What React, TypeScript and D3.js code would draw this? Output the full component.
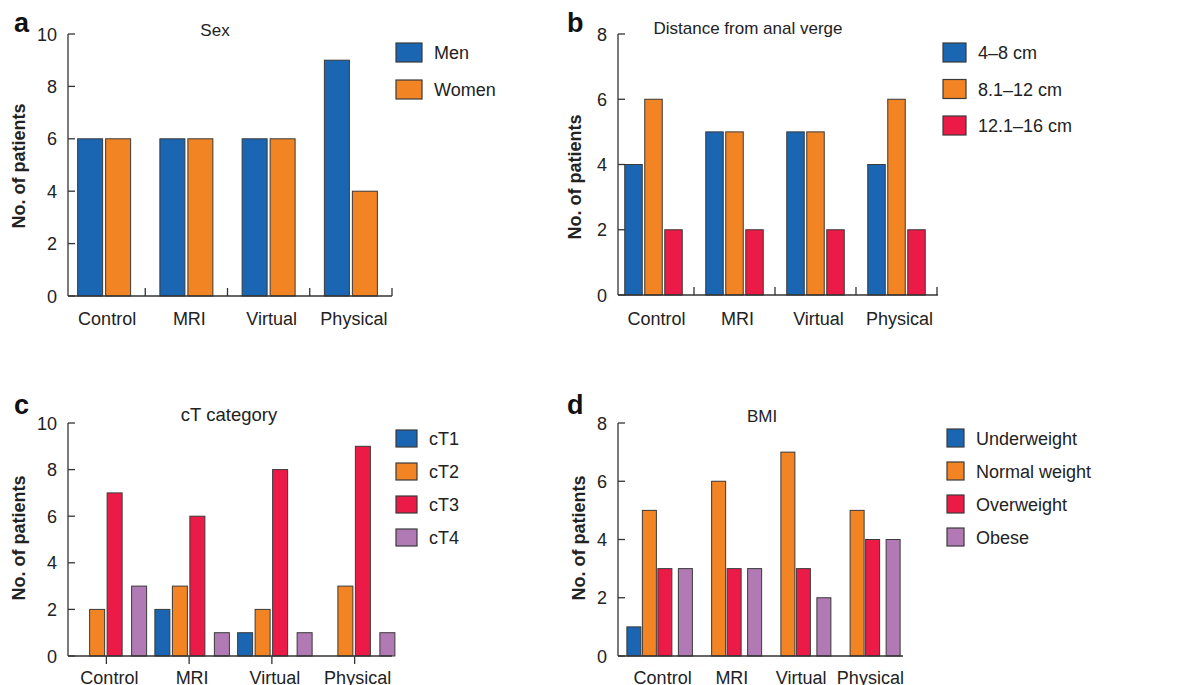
import React from "react";
import * as d3 from "d3";

// groups shared by every panel
const groups = ["Control", "MRI", "Virtual", "Physical"];

// a: sex
const sexSeries = ["Men", "Women"];
const sexValues = [
    [6, 6],
    [6, 6],
    [6, 6],
    [9, 4]
];

// b: distance from anal verge
const distSeries = ["4\u20138 cm", "8.1\u201312 cm", "12.1\u201316 cm"];
const distValues = [
    [4, 6, 2],
    [5, 5, 2],
    [5, 5, 2],
    [4, 6, 2]
];

// c: cT category
const ctSeries = ["cT1", "cT2", "cT3", "cT4"];
const ctValues = [
    [0, 2, 7, 3],
    [2, 3, 6, 1],
    [1, 2, 8, 1],
    [0, 3, 9, 1]
];

// d: BMI
const bmiSeries = ["Underweight", "Normal weight", "Overweight", "Obese"];
const bmiValues = [
    [1, 5, 3, 3],
    [0, 6, 3, 3],
    [0, 7, 3, 2],
    [0, 5, 4, 4]
];

const yTicks10 = [0, 2, 4, 6, 8, 10];
const yTicks8 = [0, 2, 4, 6, 8];

const palette = ["#1a66b2", "#f28423", "#ec1a47", "#b27ab5"];
const FONT = "'Liberation Sans', Arial, Helvetica, sans-serif";

type PanelCfg = {
    letter: string
    title: string
    titleSize: number
    series: string[]
    values: number[][]
    ticks: number[]
    axisX: number
    axisEnd: number
    yTop: number
    yBottom: number
    bandRange: [number, number]
    barW: number
    barStep: number
    lastGap: number
    innerShift: number
    tickMode: "bounds" | "centers" | "none"
    labelY: number
    titleX: number
    titleY: number
    yTitleX: number
    yTitleY: number
    letterX: number
    letterY: number
    legendX: number
    legendY: number
    legendStep: number
    swatchW: number
    swatchH: number
};

const panels: PanelCfg[] = [
    {
        letter: "a", title: "Sex", titleSize: 17, series: sexSeries, values: sexValues, ticks: yTicks10,
        axisX: 68, axisEnd: 392, yTop: 34, yBottom: 296,
        bandRange: [63, 392], barW: 25, barStep: 28, lastGap: 0, innerShift: 0,
        tickMode: "bounds", labelY: 325,
        titleX: 215, titleY: 36, yTitleX: 25, yTitleY: 166,
        letterX: 14, letterY: 32,
        legendX: 396, legendY: 43, legendStep: 37, swatchW: 26, swatchH: 19
    },
    {
        letter: "b", title: "Distance from anal verge", titleSize: 17, series: distSeries, values: distValues, ticks: yTicks8,
        axisX: 618, axisEnd: 938, yTop: 34, yBottom: 295,
        bandRange: [613, 937], barW: 17.5, barStep: 20, lastGap: 0, innerShift: 0,
        tickMode: "bounds", labelY: 325,
        titleX: 748, titleY: 34, yTitleX: 581, yTitleY: 177,
        letterX: 567, letterY: 32,
        legendX: 943, legendY: 43, legendStep: 36.5, swatchW: 23, swatchH: 19
    },
    {
        letter: "c", title: "cT category", titleSize: 18.5, series: ctSeries, values: ctValues, ticks: yTicks10,
        axisX: 68, axisEnd: 392, yTop: 423, yBottom: 656,
        bandRange: [65, 396], barW: 15, barStep: 17.5, lastGap: 7, innerShift: 3,
        tickMode: "centers", labelY: 684,
        titleX: 229, titleY: 421, yTitleX: 25, yTitleY: 538,
        letterX: 14, letterY: 414,
        legendX: 396, legendY: 430, legendStep: 33, swatchW: 21, swatchH: 17
    },
    {
        letter: "d", title: "BMI", titleSize: 17, series: bmiSeries, values: bmiValues, ticks: yTicks8,
        axisX: 618, axisEnd: 903, yTop: 423, yBottom: 656,
        bandRange: [625, 902], barW: 14, barStep: 15.5, lastGap: 5, innerShift: 0,
        tickMode: "none", labelY: 684,
        titleX: 762, titleY: 422, yTitleX: 585, yTitleY: 538,
        letterX: 567, letterY: 414,
        legendX: 947, legendY: 429, legendStep: 33, swatchW: 17, swatchH: 18
    }
];

const Panel = ({ p }: { p: PanelCfg }) => {
    const yMax = p.ticks[p.ticks.length - 1];
    const y = d3.scaleLinear().domain([0, yMax]).range([p.yBottom, p.yTop]);
    const x = d3.scaleBand<string>().domain(groups).range(p.bandRange).paddingInner(0).paddingOuter(0);
    const n = p.series.length;
    const total = (n - 1) * p.barStep + p.barW + p.lastGap;
    const offset = (i: number) => -total / 2 + i * p.barStep + (i === n - 1 ? p.lastGap : 0) + p.innerShift;
    const center = (g: string) => (x(g) as number) + x.bandwidth() / 2;

    let groupTicks: number[] = [];
    if (p.tickMode === "bounds") groupTicks = groups.map(g => (x(g) as number) + x.bandwidth());
    if (p.tickMode === "centers") groupTicks = groups.map(center);

    return (
        <g>
            <text x={p.letterX} y={p.letterY} fontFamily={FONT} fontWeight="bold" fontSize={27} fill="#111">{p.letter}</text>
            <text x={p.titleX} y={p.titleY} textAnchor="middle" fontFamily={FONT} fontSize={p.titleSize} fill="#222">{p.title}</text>
            <text
                transform={`translate(${p.yTitleX},${p.yTitleY}) rotate(-90)`}
                textAnchor="middle" fontFamily={FONT} fontWeight="bold" fontSize={18} fill="#222"
            >No. of patients</text>

            {p.values.map((row, gi) => row.map((v, si) => v > 0 ? (
                <rect
                    key={`${gi}-${si}`}
                    x={center(groups[gi]) + offset(si)}
                    y={y(v)}
                    width={p.barW}
                    height={y(0) - y(v)}
                    fill={palette[si]}
                    stroke="#3a3a3a"
                    strokeWidth={1}
                />
            ) : null))}

            {/* y axis */}
            <line x1={p.axisX} x2={p.axisX} y1={p.yTop} y2={p.yBottom} stroke="#333" strokeWidth={1.3} />
            {p.ticks.map(t => (
                <g key={t}>
                    <line x1={p.axisX} x2={p.axisX + 7} y1={y(t)} y2={y(t)} stroke="#333" strokeWidth={1.3} />
                    <text x={p.axisX - 11} y={y(t) + 6.5} textAnchor="end" fontFamily={FONT} fontSize={18} fill="#222">{t}</text>
                </g>
            ))}

            {/* x axis */}
            <line x1={p.axisX} x2={p.axisEnd} y1={p.yBottom} y2={p.yBottom} stroke="#333" strokeWidth={1.3} />
            {groupTicks.map((gx, i) => (
                p.tickMode === "bounds"
                    ? <line key={i} x1={gx} x2={gx} y1={p.yBottom} y2={p.yBottom - 8} stroke="#333" strokeWidth={1.3} />
                    : <line key={i} x1={gx} x2={gx} y1={p.yBottom} y2={p.yBottom + 8} stroke="#333" strokeWidth={1.3} />
            ))}
            {groups.map(g => (
                <text key={g} x={center(g) + 3} y={p.labelY} textAnchor="middle" fontFamily={FONT} fontSize={18} fill="#222">{g}</text>
            ))}

            {/* legend */}
            {p.series.map((s, i) => (
                <g key={s} transform={`translate(${p.legendX},${p.legendY + i * p.legendStep})`}>
                    <rect width={p.swatchW} height={p.swatchH} fill={palette[i]} stroke="#3a3a3a" strokeWidth={1.2} />
                    <text x={p.swatchW + 12} y={p.swatchH / 2 + 6.5} fontFamily={FONT} fontSize={18} fill="#222">{s}</text>
                </g>
            ))}
        </g>
    );
};

export default function App() {
    return (
        <svg width={1196} height={685} style={{ position: "absolute", left: 0, top: 0, background: "#fff" }}>
            {panels.map(p => <Panel key={p.letter} p={p} />)}
        </svg>
    );
}
